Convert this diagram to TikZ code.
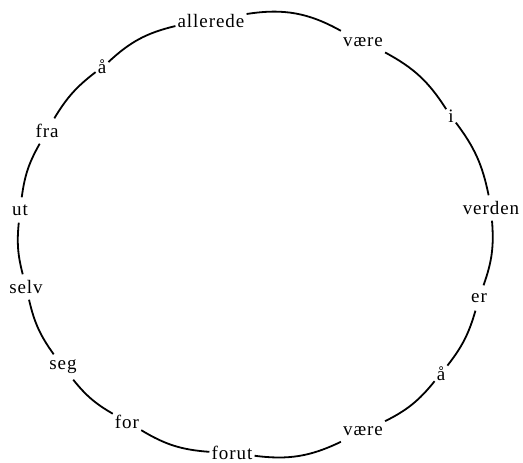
\documentclass[tikz,border=0pt]{standalone}
\usepackage{fontspec}
\setmainfont{Liberation Serif}[LetterSpace=5]
\begin{document}
\begin{tikzpicture}[x=1pt,y=-1pt,
  word/.style={font=\fontsize{19}{21}\selectfont, inner xsep=2pt, inner ysep=0pt, minimum height=25pt, anchor=center},
  link/.style={line width=1.8pt}]
\useasboundingbox[fill=white] (0,0) rectangle (523,463);
\node[word] (n1) at (211,21) {allerede};
\node[word] (n2) at (363,42) {være};
\node[word] (n3) at (451,116) {i};
\node[word] (n4) at (491,208) {verden};
\node[word] (n5) at (479,298) {er};
\node[word] (n6) at (441,374) {å};
\node[word] (n7) at (363,431) {være};
\node[word] (n8) at (232,453) {forut};
\node[word] (n9) at (127,422) {for};
\node[word] (n10) at (63,367) {seg};
\node[word] (n11) at (26,287) {selv};
\node[word] (n12) at (20,210) {ut};
\node[word] (n13) at (47,131) {fra};
\node[word] (n14) at (102,67) {å};
\draw[link] (n1) to[bend left=19] (n2);
\draw[link] (n2) to[bend left=14.7] (n3);
\draw[link] (n3) to[bend left=12.8] (n4);
\draw[link] (n4) to[bend left=12.1] (n5);
\draw[link] (n5) to[bend left=10.9] (n6);
\draw[link] (n6) to[bend left=12.2] (n7);
\draw[link] (n7) to[bend left=16.5] (n8);
\draw[link] (n8) to[bend left=13.5] (n9);
\draw[link] (n9) to[bend left=10.5] (n10);
\draw[link] (n10) to[bend left=11.4] (n11);
\draw[link] (n11) to[bend left=10] (n12);
\draw[link] (n12) to[bend left=11] (n13);
\draw[link] (n13) to[bend left=10.7] (n14);
\draw[link] (n14) to[bend left=14.8] (n1);
\end{tikzpicture}
\end{document}
